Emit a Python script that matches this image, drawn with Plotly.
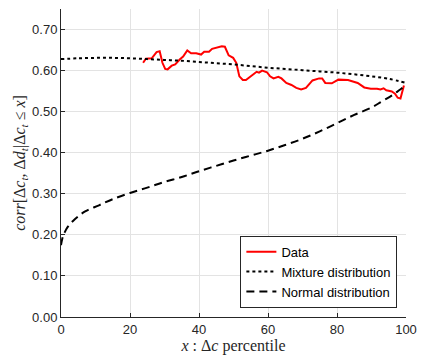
import plotly.graph_objects as go

data_x = [23.8, 24.6, 26.3, 27.7, 28.6, 29.4, 30.2, 30.9, 32.1, 33.1, 34.4, 35.4, 36.6, 37.7, 39.2, 40.6, 41.5, 42.9,
          43.8, 46.6, 47.5, 48.6, 49.9, 50.8, 51.7, 52.7, 53.6, 55.0, 56.7, 57.4, 58.3, 59.7, 60.6, 61.6, 63.0, 63.9,
          65.3, 66.8, 68.2, 69.6, 71.0, 72.9, 74.8, 75.7, 76.6, 78.5, 80.4, 83.2, 84.6, 86.0, 87.9, 89.8, 91.6, 92.6,
          93.5, 94.3, 95.9, 96.8, 97.6, 98.4, 99.4]
data_y = [0.619, 0.629, 0.630, 0.645, 0.647, 0.619, 0.604, 0.603, 0.612, 0.615, 0.627, 0.634, 0.649, 0.642, 0.642, 0.639, 0.646, 0.646,
          0.653, 0.659, 0.658, 0.637, 0.631, 0.619, 0.586, 0.577, 0.577, 0.586, 0.597, 0.595, 0.600, 0.596, 0.586, 0.581, 0.585, 0.581,
          0.570, 0.565, 0.558, 0.554, 0.558, 0.576, 0.581, 0.581, 0.570, 0.569, 0.578, 0.577, 0.573, 0.570, 0.559, 0.556, 0.556, 0.554,
          0.557, 0.552, 0.549, 0.544, 0.534, 0.532, 0.564]

mix_x = [0, 5, 10, 15, 20, 25, 30, 35, 40, 45, 50, 55, 60, 65, 70, 75, 80, 85, 90, 95, 100]
mix_y = [0.628, 0.630, 0.631, 0.631, 0.630, 0.628, 0.626, 0.624, 0.621, 0.618, 0.615, 0.611, 0.607, 0.604, 0.601,
         0.598, 0.595, 0.591, 0.586, 0.580, 0.570]

norm_x = [0, 0.5, 1, 2, 4, 7, 11, 15, 20, 25, 30, 35, 40, 45, 50, 55, 60, 65, 70, 75, 80, 85, 90, 93, 96, 98, 100]
norm_y = [0.175, 0.195, 0.205, 0.220, 0.238, 0.257, 0.272, 0.287, 0.302, 0.315, 0.329, 0.341, 0.355, 0.368, 0.381,
          0.393, 0.405, 0.419, 0.434, 0.452, 0.472, 0.492, 0.510, 0.525, 0.540, 0.552, 0.565]

x_ticks = [0, 20, 40, 60, 80, 100]
y_ticks = [0.0, 0.1, 0.2, 0.3, 0.4, 0.5, 0.6, 0.7]
y_tick_labels = ["0.00", "0.10", "0.20", "0.30", "0.40", "0.50", "0.60", "0.70"]

fig = go.Figure()
fig.add_trace(go.Scatter(x=data_x, y=data_y, mode="lines", name="Data",
                         line=dict(color="#ff0000", width=2)))
fig.add_trace(go.Scatter(x=mix_x, y=mix_y, mode="lines", name="Mixture distribution",
                         line=dict(color="black", width=2, dash="dot", shape="spline")))
fig.add_trace(go.Scatter(x=norm_x, y=norm_y, mode="lines", name="Normal distribution",
                         line=dict(color="black", width=2, dash="8px,5px", shape="spline")))

axis_common = dict(
    showline=True, linecolor="#262626", linewidth=1,
    showgrid=True, gridcolor="#e3e3e3", gridwidth=1,
    ticks="inside", ticklen=4, tickcolor="#262626",
    tickfont=dict(family="Liberation Sans, Arial", size=13, color="#262626"),
    zeroline=False, mirror=False,
)

fig.update_layout(
    width=426, height=358,
    margin=dict(l=61, r=12, t=9, b=40),
    paper_bgcolor="white", plot_bgcolor="white",
    xaxis=dict(range=[0, 100], tickvals=x_ticks,
               title=dict(text="<i>x</i> : Δ<i>c</i> percentile", standoff=1,
                          font=dict(family="Liberation Serif, DejaVu Serif", size=16, color="#262626")),
               **axis_common),
    yaxis=dict(range=[0, 0.75], tickvals=y_ticks, ticktext=y_tick_labels,
               title=dict(text="<i>corr</i>[Δ<i>c<sub>t</sub></i>, Δ<i>d<sub>t</sub></i>|Δ<i>c<sub>t</sub></i> ≤ <i>x</i>]", standoff=2,
                          font=dict(family="Liberation Serif, DejaVu Serif", size=16, color="#262626")),
               **axis_common),
    legend=dict(x=0.975, y=0.03, xanchor="right", yanchor="bottom",
                bgcolor="white", bordercolor="#262626", borderwidth=1,
                font=dict(family="Liberation Sans, Arial", size=13, color="black"),
                tracegroupgap=0, itemwidth=30),
    showlegend=True,
)

fig.write_html("out.html")
